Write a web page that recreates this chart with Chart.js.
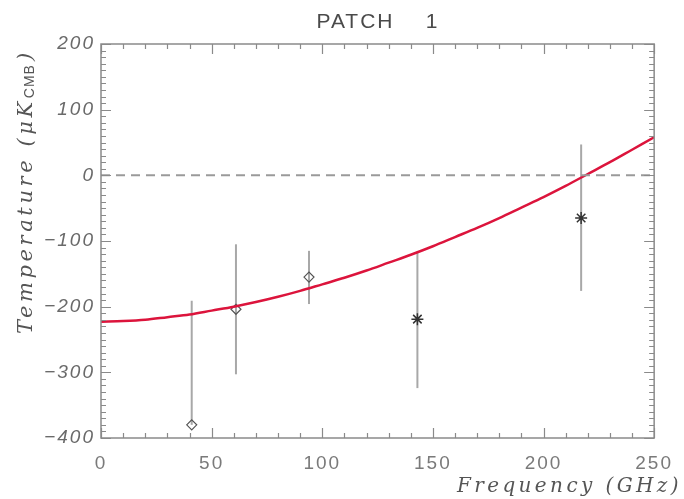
<!DOCTYPE html>
<html>
<head>
<meta charset="utf-8">
<script src="https://cdn.jsdelivr.net/npm/chart.js@4/dist/chart.umd.min.js"></script>
<style>
  html, body { margin: 0; padding: 0; background: #fff; }
  #wrap { width: 684px; height: 499px; }
</style>
</head>
<body>
<div id="wrap"><canvas id="chart" width="684" height="499"></canvas></div>
<script>
// measured points (GHz, uK_CMB) with error bar ends
const diamondFreq = [41, 61, 94];
const diamondTemp = [-380, -204, -155];
const diamondLow  = [-380, -303, -196];
const diamondHigh = [-191, -105, -115];

const starFreq = [143, 217];
const starTemp = [-219, -65];
const starLow  = [-324, -176];
const starHigh = [-116, 47];

// fitted curve
const curveFreq = [0, 10, 20, 30, 40, 50, 60, 70, 80, 90, 100, 110, 120, 130, 140, 150, 160, 170, 180, 190, 200, 210, 220, 230, 240, 250];
const curveTemp = [-223, -222, -220, -216, -212, -206, -200, -193, -185, -176, -166, -156, -145, -133, -121, -108, -94, -80, -65, -49, -33, -16, 2, 20, 39, 58];

const xTicks = [0, 50, 100, 150, 200, 250];
const yTicks = [-400, -300, -200, -100, 0, 100, 200];

const AXIS = "#8a8a8a";
const LABEL = "#6a6a6a";

const toXY = (xs, ys) => xs.map((x, i) => ({ x: x, y: ys[i] }));

// wider spacing for the tick labels, like the IDL vector font
const spacing = {
  id: "spacing",
  beforeDraw(chart) { chart.ctx.letterSpacing = "2px"; },
};

// error bars under the markers
const errorBars = {
  id: "errorBars",
  beforeDatasetsDraw(chart) {
    const { ctx, scales: { x, y } } = chart;
    const groups = [
      [diamondFreq, diamondLow, diamondHigh],
      [starFreq, starLow, starHigh],
    ];
    ctx.save();
    ctx.strokeStyle = "#a8a8a8";
    ctx.lineWidth = 2;
    groups.forEach(([fs, lo, hi]) => {
      fs.forEach((f, i) => {
        const px = x.getPixelForValue(f);
        ctx.beginPath();
        ctx.moveTo(px, y.getPixelForValue(lo[i]));
        ctx.lineTo(px, y.getPixelForValue(hi[i]));
        ctx.stroke();
      });
    });
    ctx.restore();
  },
};

// IDL style box with inward ticks on all sides, plus titles
const frame = {
  id: "frame",
  afterDatasetsDraw(chart) {
    const { ctx, chartArea: a, scales: { x, y } } = chart;
    ctx.save();
    ctx.strokeStyle = AXIS;
    ctx.lineWidth = 1.5;
    ctx.strokeRect(a.left, a.top, a.right - a.left, a.bottom - a.top);
    ctx.lineWidth = 1.2;
    ctx.beginPath();
    for (let v = 0; v <= 250; v += 10) {
      const px = Math.round(x.getPixelForValue(v)) + 0.5;
      const len = v % 50 === 0 ? 10 : 5;
      ctx.moveTo(px, a.bottom); ctx.lineTo(px, a.bottom - len);
      ctx.moveTo(px, a.top); ctx.lineTo(px, a.top + len);
    }
    for (let v = -400; v <= 200; v += 10) {
      const py = Math.round(y.getPixelForValue(v)) + 0.5;
      const len = v % 100 === 0 ? 10 : 5;
      ctx.moveTo(a.left, py); ctx.lineTo(a.left + len, py);
      ctx.moveTo(a.right, py); ctx.lineTo(a.right - len, py);
    }
    ctx.stroke();

    // title
    ctx.fillStyle = "#4a4a4a";
    ctx.font = "21px 'Liberation Sans', Arial, sans-serif";
    ctx.letterSpacing = "2px";
    ctx.textAlign = "center";
    ctx.textBaseline = "middle";
    ctx.fillText("PATCH    1", 378, 22);

    // x title
    ctx.fillStyle = "#555";
    ctx.font = "italic 20px 'DejaVu Serif', serif";
    ctx.letterSpacing = "3.4px";
    ctx.textAlign = "right";
    ctx.fillText("Frequency (GHz)", 682, 487);

    // y title with subscript
    ctx.translate(27, 334);
    ctx.rotate(-Math.PI / 2);
    ctx.textAlign = "left";
    ctx.font = "italic 21px 'DejaVu Serif', serif";
    ctx.letterSpacing = "3.6px";
    const main = "Temperature (\u03bcK";
    ctx.fillText(main, 0, 0);
    let w = ctx.measureText(main).width;
    ctx.letterSpacing = "1px";
    ctx.font = "14px 'Liberation Sans', Arial, sans-serif";
    ctx.fillText("CMB", w, 3);
    w += ctx.measureText("CMB").width + 3;
    ctx.letterSpacing = "3px";
    ctx.font = "italic 21px 'DejaVu Serif', serif";
    ctx.fillText(")", w, 0);
    ctx.restore();
  },
};

new Chart(document.getElementById("chart"), {
  type: "scatter",
  data: {
    datasets: [
      {
        label: "zero",
        type: "line",
        data: toXY([0, 250], [0, 0]),
        borderColor: "#9a9a9a",
        borderWidth: 2,
        borderDash: [9, 6],
        pointRadius: 0,
      },
      {
        label: "fit",
        type: "line",
        data: toXY(curveFreq, curveTemp),
        borderColor: "#dc143c",
        borderWidth: 2.5,
        cubicInterpolationMode: "monotone",
        pointRadius: 0,
      },
      {
        label: "diamonds",
        data: toXY(diamondFreq, diamondTemp),
        pointStyle: "rectRot",
        pointRadius: 5,
        pointBorderWidth: 1.2,
        pointBorderColor: "#555",
        pointBackgroundColor: "rgba(0,0,0,0)",
      },
      {
        label: "stars",
        data: toXY(starFreq, starTemp),
        pointStyle: "star",
        pointRadius: 6,
        pointBorderWidth: 1.5,
        pointBorderColor: "#333",
        pointBackgroundColor: "rgba(0,0,0,0)",
      },
    ],
  },
  options: {
    responsive: false,
    animation: false,
    events: [],
    layout: { padding: { top: 44, right: 27, left: 0, bottom: 0 } },
    plugins: { legend: { display: false }, tooltip: { enabled: false } },
    scales: {
      x: {
        type: "linear",
        min: 0,
        max: 250,
        afterBuildTicks: (s) => { s.ticks = xTicks.map((v) => ({ value: v })); },
        afterFit: (s) => { s.height = 61; },
        grid: { display: false, drawTicks: false },
        border: { display: false },
        ticks: {
          padding: 14,
          color: "#7a7a7a",
          font: { family: "'Liberation Sans', Arial, sans-serif", size: 19 },
          maxRotation: 0,
        },
      },
      y: {
        type: "linear",
        min: -400,
        max: 200,
        afterBuildTicks: (s) => { s.ticks = yTicks.map((v) => ({ value: v })); },
        afterFit: (s) => { s.width = 101; },
        grid: { display: false, drawTicks: false },
        border: { display: false },
        ticks: {
          padding: 6,
          color: LABEL,
          font: { family: "'Liberation Sans', Arial, sans-serif", size: 19, style: "italic" },
          callback: (v) => String(v).replace("-", "\u2212"),
        },
      },
    },
  },
  plugins: [spacing, errorBars, frame],
});
</script>
</body>
</html>
